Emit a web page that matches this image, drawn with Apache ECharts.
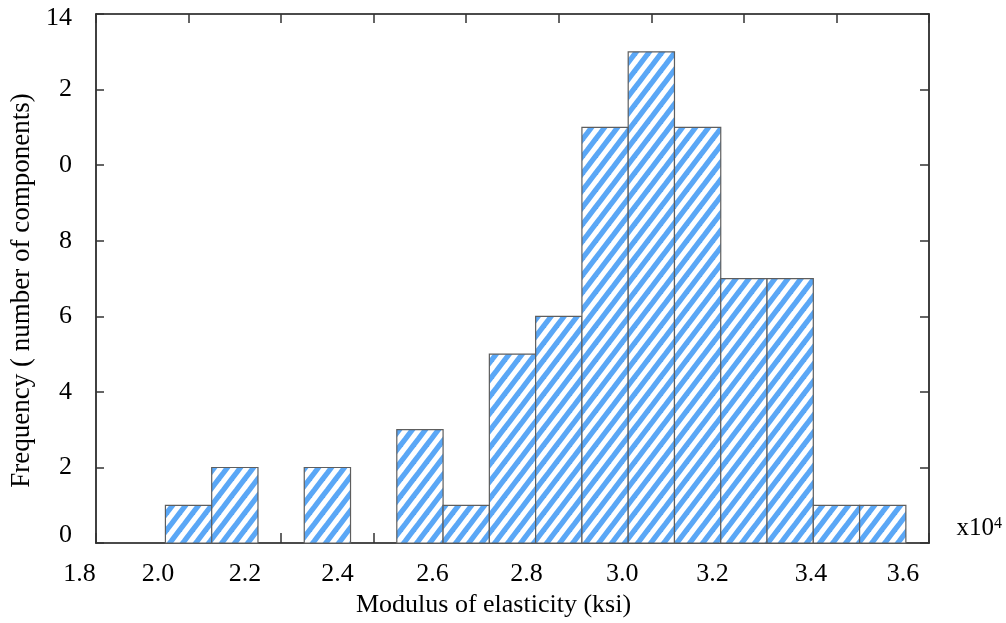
<!DOCTYPE html>
<html>
<head>
<meta charset="utf-8">
<script src="https://cdn.jsdelivr.net/npm/echarts@6/dist/echarts.min.js"></script>
<style>
html, body { margin: 0; padding: 0; background: #fff; }
#chart { width: 1006px; height: 623px; }
</style>
</head>
<body>
<div id="chart"></div>
<script>
// histogram bins (x10^4 ksi), centre of each bin
var binCenters = [2.0, 2.1, 2.2, 2.3, 2.4, 2.5, 2.6, 2.7, 2.8, 2.9, 3.0, 3.1, 3.2, 3.3, 3.4, 3.5];
var counts = [1, 2, 0, 2, 0, 3, 1, 5, 6, 11, 13, 11, 7, 7, 1, 1];
var binWidth = 0.1;

// x ticks, and the tick labels (printed shifted from the ticks in the original)
var xTicks = [1.8, 2.0, 2.2, 2.4, 2.6, 2.8, 3.0, 3.2, 3.4, 3.6];
var xLabelText = ['1.8', '2.0', '2.2', '2.4', '2.6', '2.8', '3.0', '3.2', '3.4', '3.6'];
var xLabelAt = [1.8, 1.934, 2.122, 2.322, 2.527, 2.730, 2.937, 3.132, 3.345, 3.544];

// y tick labels as printed (12 and 10 lost their first digit)
var yLabelText = ['0', '2', '4', '6', '8', '0', '2', '14'];

var serif = '"Liberation Serif", "DejaVu Serif", serif';

// blue / white diagonal stripes, one stripe per tile
function makeStripes() {
	var W = 13, H = 17;
	var c = document.createElement('canvas');
	c.width = W;
	c.height = H;
	var ctx = c.getContext('2d');
	ctx.fillStyle = '#ffffff';
	ctx.fillRect(0, 0, W, H);
	ctx.strokeStyle = '#5aa7f6';
	ctx.lineWidth = 5.3;
	for (var n = 0; n <= 2; n++) {
		ctx.beginPath();
		ctx.moveTo((n - 2) * W, 2 * H);
		ctx.lineTo((n + 1) * W, -H);
		ctx.stroke();
	}
	return c;
}
var stripes = makeStripes();

var histData = [];
for (var i = 0; i < binCenters.length; i++) {
	histData.push([binCenters[i], counts[i]]);
}

function findIndex(arr, v) {
	for (var i = 0; i < arr.length; i++) {
		if (Math.abs(arr[i] - v) < 1e-6) return i;
	}
	return -1;
}

var axisLine = { show: true, onZero: false, lineStyle: { color: '#111', width: 1.6 } };
var tickStyle = { color: '#333', width: 1.5 };

// axes that only carry the inward ticks: pulled inside the frame by offset, ticks point back out to the frame
function xTickAxis(pos, len) {
	return {
		type: 'value', position: pos, offset: -len,
		min: 1.8, max: 3.6, interval: 0.2,
		axisLine: { show: false, onZero: false },
		axisTick: { show: true, length: len, lineStyle: tickStyle },
		axisLabel: { show: false },
		splitLine: { show: false }
	};
}
function yTickAxis(pos, len) {
	return {
		type: 'value', position: pos, offset: -len,
		min: 0, max: 14, interval: 2,
		axisLine: { show: false, onZero: false },
		axisTick: { show: true, length: len, lineStyle: tickStyle },
		axisLabel: { show: false },
		splitLine: { show: false }
	};
}

var option = {
	animation: false,
	backgroundColor: '#fff',
	grid: { left: 95, right: 77, top: 14, bottom: 78 },
	xAxis: [{
		type: 'value',
		position: 'bottom',
		min: 1.8,
		max: 3.6,
		interval: 0.2,
		axisLine: axisLine,
		axisTick: { show: false },
		axisLabel: {
			customValues: xLabelAt,
			margin: 18,
			color: '#000',
			fontFamily: serif,
			fontSize: 26,
			formatter: function (v) {
				var i = findIndex(xLabelAt, v);
				if (i === 0) return '{l|' + xLabelText[i] + '}';
				return xLabelText[i];
			},
			rich: {
				l: { fontFamily: serif, fontSize: 26, color: '#000', padding: [0, 33, 0, 0] }
			}
		},
		splitLine: { show: false },
		name: 'Modulus of elasticity (ksi)',
		nameLocation: 'middle',
		nameGap: 46,
		nameTextStyle: { color: '#000', fontFamily: serif, fontSize: 26, padding: [0, 38, 0, 0] }
	}, {
		type: 'value',
		position: 'top',
		min: 1.8,
		max: 3.6,
		interval: 0.2,
		axisLine: axisLine,
		axisTick: { show: false },
		axisLabel: { show: false },
		splitLine: { show: false }
	},
		xTickAxis('bottom', 10),
		xTickAxis('top', 9)
	],
	yAxis: [{
		type: 'value',
		position: 'left',
		min: 0,
		max: 14,
		interval: 2,
		axisLine: axisLine,
		axisTick: { show: false },
		axisLabel: {
			margin: 24,
			color: '#000',
			fontFamily: serif,
			fontSize: 26,
			formatter: function (v) {
				var i = Math.round(v / 2);
				if (i === 0) return '{b|' + yLabelText[i] + '}';
				if (i === yLabelText.length - 1) return '{t|' + yLabelText[i] + '}';
				return yLabelText[i];
			},
			rich: {
				b: { fontFamily: serif, fontSize: 26, color: '#000', padding: [0, 0, 15, 0] },
				t: { fontFamily: serif, fontSize: 26, color: '#000', padding: [8, 0, 0, 0] }
			}
		},
		splitLine: { show: false },
		name: 'Frequency ( number of components)',
		nameLocation: 'middle',
		nameGap: 61,
		nameTextStyle: { color: '#000', fontFamily: serif, fontSize: 27, padding: [0, 24, 0, 0] }
	}, {
		type: 'value',
		position: 'right',
		min: 0,
		max: 14,
		interval: 2,
		axisLine: axisLine,
		axisTick: { show: false },
		axisLabel: { show: false },
		splitLine: { show: false }
	},
		yTickAxis('left', 8),
		yTickAxis('right', 9)
	],
	graphic: [{
		type: 'text',
		right: 4,
		top: 516,
		style: {
			text: 'x10{s|4}',
			fill: '#000',
			font: '25px ' + serif,
			rich: {
				s: { fontFamily: serif, fontSize: 16, fill: '#000', verticalAlign: 'top' }
			}
		}
	}],
	series: [{
		type: 'custom',
		xAxisIndex: 0,
		yAxisIndex: 0,
		data: histData,
		renderItem: function (params, api) {
			var c = api.value(0), n = api.value(1);
			if (!n) return null;
			var p0 = api.coord([c - binWidth / 2, n]);
			var p1 = api.coord([c + binWidth / 2, 0]);
			return {
				type: 'rect',
				shape: { x: p0[0], y: p0[1], width: p1[0] - p0[0], height: p1[1] - p0[1] },
				style: {
					fill: { image: stripes, repeat: 'repeat' },
					stroke: '#5e5e5e',
					lineWidth: 1.2
				}
			};
		}
	}]
};

var myChart = echarts.init(document.getElementById('chart'));
myChart.setOption(option);
</script>
</body>
</html>
